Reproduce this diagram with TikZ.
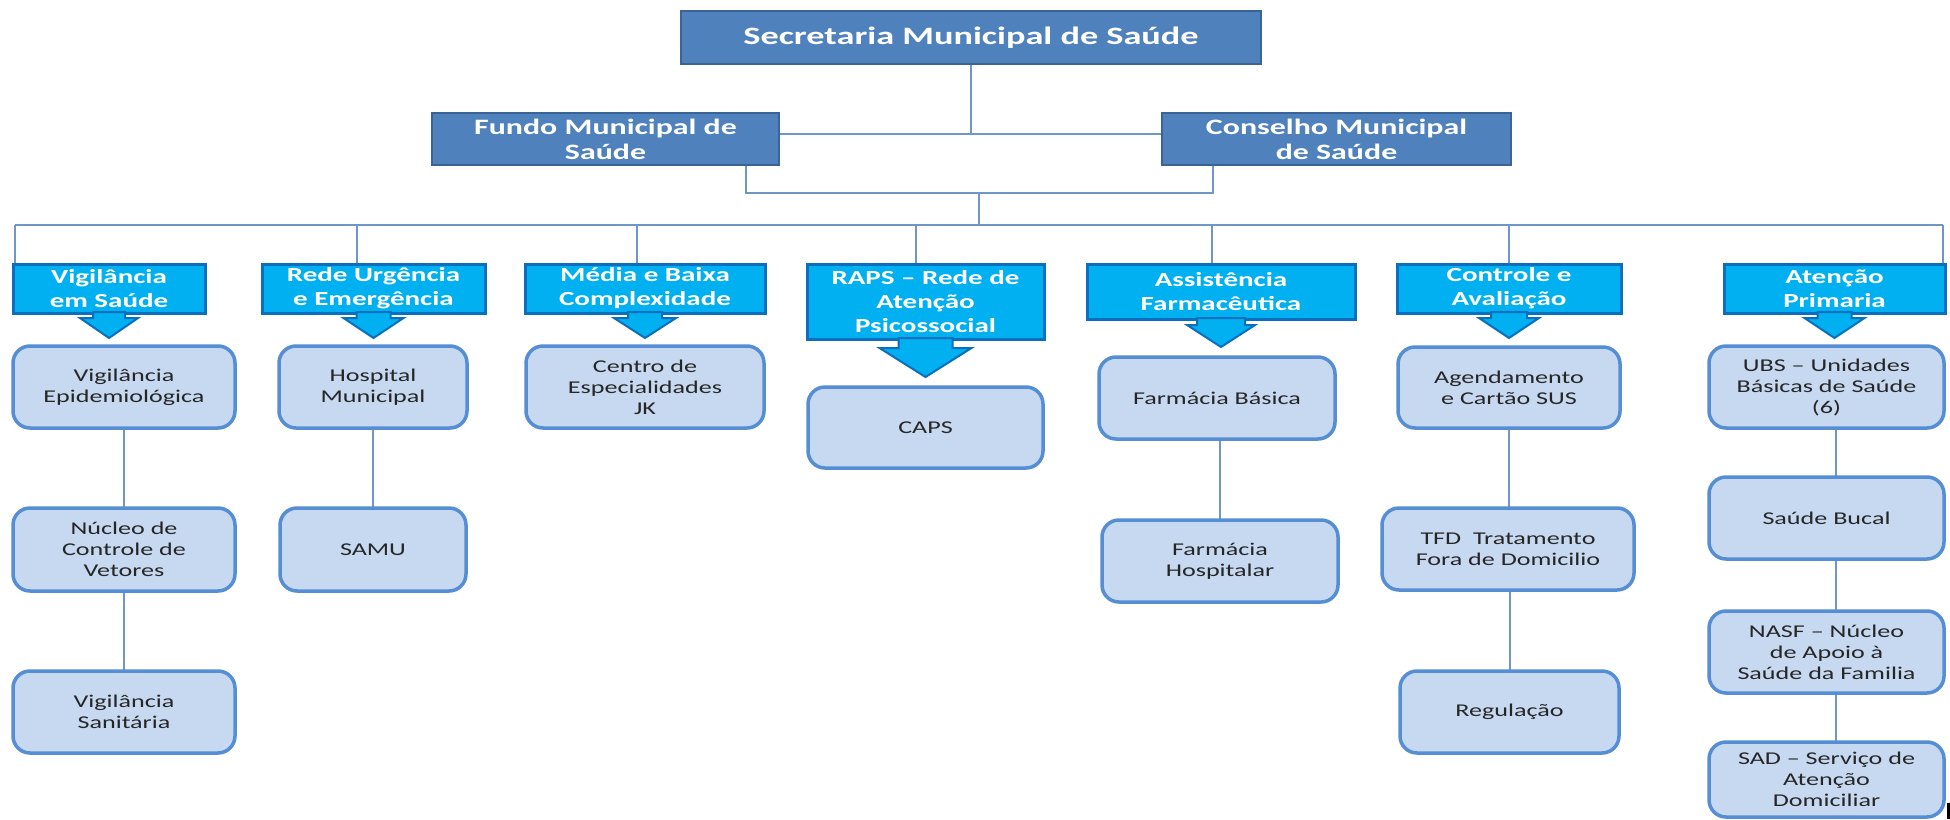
\documentclass[tikz,border=0pt]{standalone}
\usepackage{fontspec}
\setmainfont{Carlito}[FakeStretch=1.45]
\usetikzlibrary{backgrounds}
\definecolor{topfill}{HTML}{4F81BD}
\definecolor{topdraw}{HTML}{3A6396}
\definecolor{hdrfill}{HTML}{00B0F0}
\definecolor{hdrdraw}{HTML}{0A6FBE}
\definecolor{childfill}{HTML}{C6D9F1}
\definecolor{childdraw}{HTML}{558ED5}
\definecolor{bodytext}{HTML}{262626}
\definecolor{conncol}{HTML}{7096C8}
\newcommand{\hdarrow}[5]{%
  \filldraw[arrowbox] (#1.south) ++(-#2,-1) -- ++(0,#3+1) -- ++(-#4+#2,0) -- ++(#4,#5) -- ++(#4,-#5) -- ++(-#4+#2,0) -- ++(0,-#3-1) -- cycle;}
\begin{document}
\begin{tikzpicture}[x=1pt,y=-1pt,
  wh/.style 2 args={minimum width=#1pt,minimum height=#2pt},
  topbox/.style={draw=topdraw,fill=topfill,line width=2.5pt,text=white,align=center,inner sep=0pt,outer sep=0pt,font=\bfseries\fontsize{22}{25}\selectfont},
  hdrbox/.style={draw=hdrdraw,fill=hdrfill,line width=3pt,text=white,align=center,inner sep=0pt,outer sep=0pt,font=\bfseries\fontsize{20}{24}\selectfont},
  childbox/.style={draw=childdraw,fill=childfill,line width=3.5pt,rounded corners=17pt,text=bodytext,align=center,inner sep=0pt,outer sep=0pt,font=\fontsize{18}{21}\selectfont},
  conn/.style={draw=conncol,line width=2pt},
  arrowbox/.style={fill=hdrfill,draw=hdrdraw,line width=2pt,line join=miter}
]
\useasboundingbox (0,0) rectangle (1950,819);

% top level
\node[topbox,wh={580}{53},font=\bfseries\fontsize{25}{30}\selectfont] (sec) at (971,37.5) {Secretaria Municipal de Saúde};
\node[topbox,wh={347}{52}] (fundo) at (605.5,139) {Fundo Municipal de\\Saúde};
\node[topbox,wh={349}{52}] (cons) at (1336.5,139) {Conselho Municipal\\de Saúde};

% headers
\node[hdrbox,wh={192}{49}] (vig) at (109,288.5) {Vigilância\\em Saúde};
\node[hdrbox,wh={223}{49}] (rede) at (373.5,288.5) {Rede Urgência\\e Emergência};
\node[hdrbox,wh={240}{49}] (media) at (645,288.5) {Média e Baixa\\Complexidade};
\node[hdrbox,wh={237}{75}] (raps) at (925.5,301.5) {RAPS – Rede de\\Atenção\\Psicossocial};
\node[hdrbox,wh={268}{55}] (assist) at (1221,291.5) {Assistência\\Farmacêutica};
\node[hdrbox,wh={224}{49}] (ctrl) at (1509,288.5) {Controle e\\Avaliação};
\node[hdrbox,wh={221}{49}] (aten) at (1834.5,288.5) {Atenção\\Primaria};

\hdarrow{vig}{16}{5}{29}{20}
\hdarrow{rede}{17}{5}{30}{20}
\hdarrow{media}{17}{5}{31}{20}
\hdarrow{raps}{27}{9}{46}{29}
\hdarrow{assist}{24}{6}{34}{22}
\hdarrow{ctrl}{18}{5}{30}{20}
\hdarrow{aten}{17}{5}{30}{20}

% children
\node[childbox,wh={222}{82}] (epi) at (124,387) {Vigilância\\Epidemiológica};
\node[childbox,wh={222}{83}] (nuc) at (124,549.5) {Núcleo de\\Controle de\\Vetores};
\node[childbox,wh={222}{82}] (san) at (124,712) {Vigilância\\Sanitária};
\node[childbox,wh={188}{82}] (hosp) at (373,387) {Hospital\\Municipal};
\node[childbox,wh={186}{83}] (samu) at (373,549.5) {SAMU};
\node[childbox,wh={238}{82}] (cent) at (645,387) {Centro de\\Especialidades\\JK};
\node[childbox,wh={235}{81}] (caps) at (925.5,427.5) {CAPS};
\node[childbox,wh={236}{82}] (fbas) at (1217,398) {Farmácia Básica};
\node[childbox,wh={236}{82}] (fhos) at (1220,561) {Farmácia\\Hospitalar};
\node[childbox,wh={222}{81}] (agen) at (1509,387.5) {Agendamento\\e Cartão SUS};
\node[childbox,wh={252}{82}] (tfd) at (1508,549) {TFD\ \ Tratamento\\Fora de Domicilio};
\node[childbox,wh={219}{82}] (reg) at (1509.5,712) {Regulação};
\node[childbox,wh={235}{82}] (ubs) at (1826.5,387) {UBS – Unidades\\Básicas de Saúde\\(6)};
\node[childbox,wh={235}{82}] (bucal) at (1826.5,518) {Saúde Bucal};
\node[childbox,wh={235}{82}] (nasf) at (1826.5,652) {NASF – Núcleo\\de Apoio à\\Saúde da Familia};
\node[childbox,wh={235}{75}] (sad) at (1826.5,779.5) {SAD – Serviço de\\Atenção\\Domiciliar};

\fill[black] (1947,803) rectangle (1950,819);

% connectors
\coordinate (fj) at ([yshift=5pt]cons.west);
\coordinate (jn) at (979,193);
\coordinate (b0) at (15,225);
\coordinate (b1) at (357,225);
\coordinate (b2) at (637,225);
\coordinate (b3) at (916,225);
\coordinate (bc) at (979,225);
\coordinate (b4) at (1212,225);
\coordinate (b5) at (1509,225);
\coordinate (b6) at (1943,225);
\begin{pgfonlayer}{background}
\fill[white] (0,0) rectangle (1950,819);
\draw[conn] ([yshift=5pt]fundo.east) -- (fj);
\draw[conn] (sec.south) -- (sec.south |- fj);
\draw[conn] ([xshift=140.5pt]fundo.south) |- (jn) -| ([xshift=-123.5pt]cons.south);
\draw[conn] (jn) -- (bc);
\draw[conn] (b0) -- (b6);
\draw[conn] (b0) -- (b0 |- vig.north);
\draw[conn] (b1) -- (b1 |- rede.north);
\draw[conn] (b2) -- (b2 |- media.north);
\draw[conn] (b3) -- (b3 |- raps.north);
\draw[conn] (b4) -- (b4 |- assist.north);
\draw[conn] (b5) -- (b5 |- ctrl.north);
\draw[conn] (b6) -- (b6 |- aten.north);
\draw[conn] (epi.south) -- (nuc.north);
\draw[conn] (nuc.south) -- (san.north);
\draw[conn] (hosp.south) -- (samu.north);
\draw[conn] (fhos.north |- fbas.south) -- (fhos.north);
\draw[conn] (agen.south) -- (agen.south |- tfd.north);
\draw[conn] (reg.north |- tfd.south) -- (reg.north);
\draw[conn] ([xshift=9.5pt]ubs.south) -- ([xshift=9.5pt]bucal.north);
\draw[conn] ([xshift=9.5pt]bucal.south) -- ([xshift=9.5pt]nasf.north);
\draw[conn] ([xshift=9.5pt]nasf.south) -- ([xshift=9.5pt]sad.north);
\end{pgfonlayer}
\end{tikzpicture}
\end{document}
